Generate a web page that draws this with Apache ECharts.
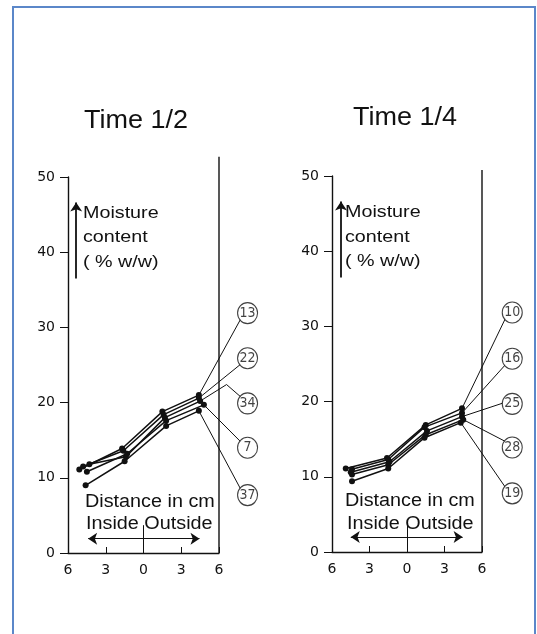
<!DOCTYPE html>
<html lang="en">
<head>
  <meta charset="UTF-8">
  <title>Moisture content profiles</title>
  <style>
    html, body { margin: 0; padding: 0; background-color: #fff; }
  </style>
  <script src="https://cdn.jsdelivr.net/npm/echarts@6/dist/echarts.min.js"></script>
</head>
<body>
<div id="chart" style="width: 537px; height: 634px;"></div>
<script>
  // panel titles
  const titles = ['Time 1/2', 'Time 1/4']

  // curve numbers, top to bottom
  const halfNames = ['13', '22', '34', '7', '37']
  const quarterNames = ['10', '16', '25', '28', '19']

  // measured points [distance cm, moisture % w/w]
  const halfValues = [
    [[-5.1, 11.1], [-1.7, 13.9], [1.5, 18.8], [4.4, 21.0]],
    [[-4.8, 11.5], [-1.6, 13.6], [1.6, 18.4], [4.4, 20.6]],
    [[-4.3, 11.8], [-1.4, 12.8], [1.7, 18.0], [4.5, 20.2]],
    [[-4.5, 10.8], [-1.3, 13.2], [1.8, 17.6], [4.8, 19.7]],
    [[-4.6, 9.0], [-1.5, 12.2], [1.8, 16.9], [4.4, 18.9]]
  ]
  const quarterValues = [
    [[-4.9, 11.1], [-1.6, 12.5], [1.5, 16.9], [4.4, 19.1]],
    [[-4.4, 11.0], [-1.5, 12.3], [1.4, 16.6], [4.4, 18.5]],
    [[-4.5, 10.6], [-1.4, 12.0], [1.6, 16.1], [4.4, 18.0]],
    [[-4.4, 10.3], [-1.5, 11.6], [1.5, 15.6], [4.5, 17.6]],
    [[-4.4, 9.4], [-1.5, 11.1], [1.4, 15.2], [4.3, 17.2]]
  ]

  // circled number positions and the leader bends
  const halfTags = [[8.27, 31.9], [8.27, 25.9], [8.27, 19.9], [8.27, 14.0], [8.27, 7.7]]
  const halfBends = [null, null, [6.6, 22.4], null, null]
  const quarterTags = [[8.42, 31.85], [8.42, 25.7], [8.42, 19.7], [8.42, 13.9], [8.42, 7.8]]
  const quarterBends = [null, null, null, null, null]

  // top of the outer wall line
  const wallTop = [52.7, 50.8]

  const xTicks = [-6, -3, 0, 3, 6]

  const chart = echarts.init(document.getElementById('chart'))

  const black = '#111'

  function panelSeries(idx, names, values, tags, bends) {
    const out = []
    const leaders = []
    names.forEach((n, i) => {
      out.push({
        type: 'line', xAxisIndex: idx, yAxisIndex: idx,
        data: values[i], symbol: 'circle', symbolSize: 6,
        itemStyle: {color: black}, lineStyle: {color: black, width: 1.5},
        silent: true, animation: false, z: 3
      })
      const last = values[i][values[i].length - 1]
      const path = [last]
      let end
      if (bends[i]) {
        path.push(bends[i])
        end = [tags[i][0] - 0.5, tags[i][1] + 0.8]
      } else if (tags[i][1] > 18 && tags[i][1] < 21) {
        end = [tags[i][0] - 0.75, tags[i][1] + 0.1]
      } else if (tags[i][1] > last[1]) {
        end = [tags[i][0] - 0.55, tags[i][1] - 0.8]
      } else {
        end = [tags[i][0] - 0.55, tags[i][1] + 0.8]
      }
      path.push(end)
      leaders.push({coords: path})
    })
    // leader lines and outer wall at x = 6
    out.push({
      type: 'lines', coordinateSystem: 'cartesian2d', xAxisIndex: idx, yAxisIndex: idx,
      polyline: true, clip: false, silent: true, animation: false, z: 2,
      lineStyle: {color: black, width: 1, opacity: 1},
      data: leaders
    })
    out.push({
      type: 'lines', coordinateSystem: 'cartesian2d', xAxisIndex: idx, yAxisIndex: idx,
      polyline: true, clip: false, silent: true, animation: false, z: 2,
      lineStyle: {color: black, width: 1.4, opacity: 1},
      data: [{coords: [[6, 0], [6, wallTop[idx]]]}]
    })
    out.push({
      type: 'scatter', xAxisIndex: idx, yAxisIndex: idx, clip: false,
      data: tags.map((t, i) => ({name: names[i], value: t})),
      symbol: 'circle', symbolSize: [20, 21],
      itemStyle: {color: '#fff', borderColor: black, borderWidth: 1.1},
      label: {
        show: true, position: 'inside', formatter: p => p.name,
        color: black, fontSize: 14, fontFamily: 'Liberation Sans Narrow, DejaVu Sans Condensed, sans-serif'
      },
      silent: true, animation: false, z: 4
    })
    // in-chart arrows
    out.push({
      type: 'line', xAxisIndex: idx, yAxisIndex: idx,
      data: [], symbol: 'none', silent: true, animation: false,
      markLine: {
        silent: true, animation: false,
        label: {show: false},
        lineStyle: {color: black, type: 'solid', width: 1},
        symbolSize: 9,
        data: [
          [{coord: [0, 0], symbol: 'none'}, {coord: [0, idx ? 3.9 : 3.7], symbol: 'none'}],
          [{coord: [idx ? -4.5 : -4.4, idx ? 2.0 : 1.9], symbol: 'arrow'}, {coord: [4.45, idx ? 2.0 : 1.9], symbol: 'arrow'}],
          [{coord: [idx ? -5.28 : -5.35, 36.5], symbol: 'none'},
           {coord: [idx ? -5.28 : -5.35, 46.6], symbol: 'arrow', lineStyle: {width: 1.8}}]
        ]
      }
    })
    return out
  }

  function xAxis(idx) {
    return {
      type: 'value', gridIndex: idx, min: -6, max: 6, interval: 3,
      axisLine: {onZero: false, lineStyle: {color: black, width: 1.3}},
      axisTick: {inside: true, length: 6, lineStyle: {color: black}},
      axisLabel: {
        color: black, fontSize: 14, fontFamily: 'DejaVu Sans', margin: 10,
        formatter: v => xTicks.includes(v) ? String(Math.abs(v)) : ''
      },
      splitLine: {show: false}
    }
  }

  function yAxis(idx) {
    return {
      type: 'value', gridIndex: idx, min: 0, max: 50, interval: 10,
      axisLine: {show: true, onZero: false, lineStyle: {color: black, width: 1.4}},
      axisTick: {show: true, length: 8, lineStyle: {color: black}},
      axisLabel: {color: black, fontSize: 14, fontFamily: 'DejaVu Sans', margin: 13},
      splitLine: {show: false}
    }
  }

  function txt(x, y, text, size, sx, align) {
    return {
      type: 'text', x: x, y: y, scaleX: sx, silent: true,
      style: {
        text: text, fontSize: size, fontFamily: 'Liberation Sans, Arial, sans-serif',
        fill: black, textAlign: align || 'left', textVerticalAlign: 'middle'
      }
    }
  }

  const option = {
    animation: false,
    grid: [
      {left: 68, top: 177, width: 151, height: 376},
      {left: 332, top: 176, width: 150, height: 376}
    ],
    xAxis: [xAxis(0), xAxis(1)],
    yAxis: [yAxis(0), yAxis(1)],
    series: panelSeries(0, halfNames, halfValues, halfTags, halfBends)
      .concat(panelSeries(1, quarterNames, quarterValues, quarterTags, quarterBends)),
    graphic: [
      {
        type: 'rect', silent: true,
        shape: {x: 13, y: 7, width: 522, height: 640},
        style: {fill: 'none', stroke: '#5b87c9', lineWidth: 2}
      },
      txt(136, 121, titles[0], 25, 1.08, 'center'),
      txt(405, 118, titles[1], 25, 1.08, 'center'),
      txt(83, 213, 'Moisture', 17, 1.16),
      txt(83, 237, 'content', 17, 1.16),
      txt(83, 262, '( % w/w)', 17, 1.16),
      txt(345, 212, 'Moisture', 17, 1.16),
      txt(345, 237, 'content', 17, 1.16),
      txt(345, 261, '( % w/w)', 17, 1.16),
      txt(85, 502, 'Distance in cm', 18, 1.1),
      txt(86, 524, 'Inside Outside', 18, 1.1),
      txt(345, 501, 'Distance in cm', 18, 1.1),
      txt(347, 524, 'Inside Outside', 18, 1.1)
    ]
  }
  chart.setOption(option)
</script>
</body>
</html>
